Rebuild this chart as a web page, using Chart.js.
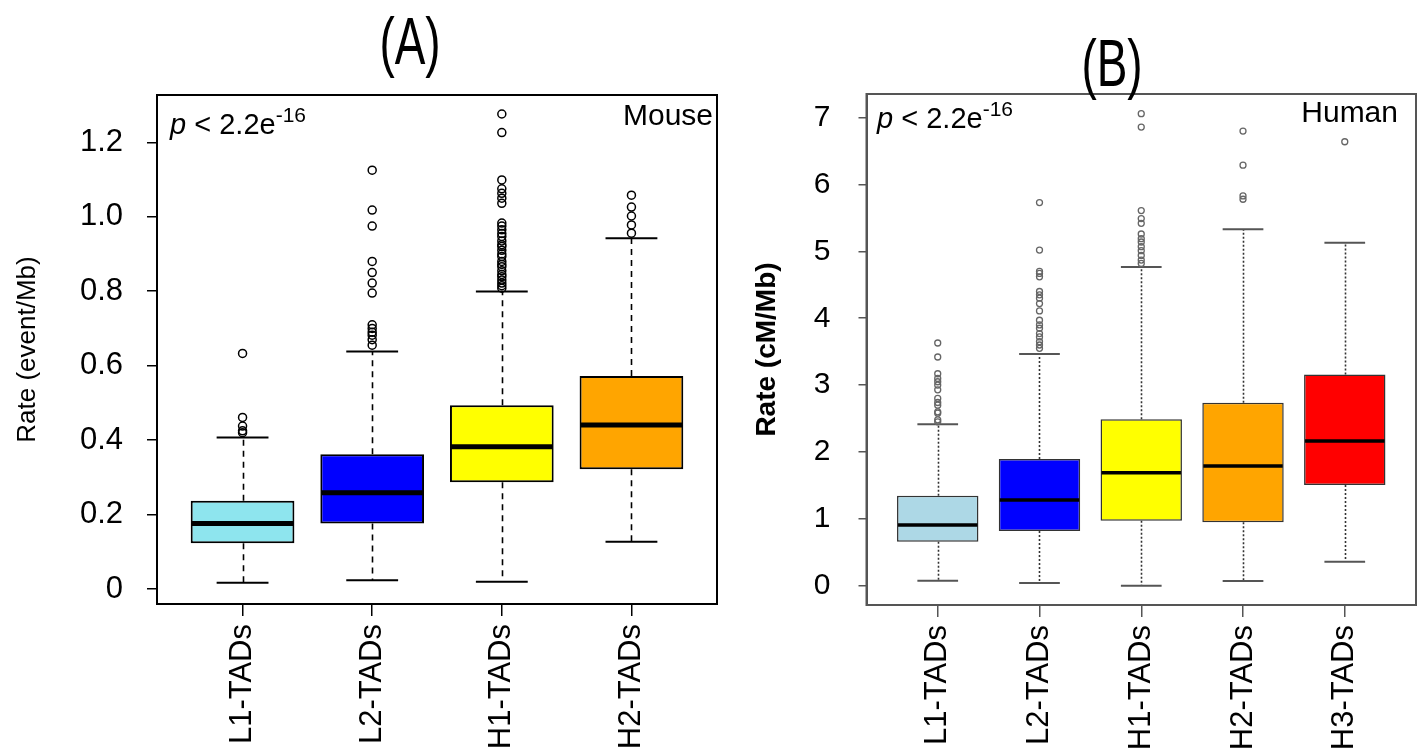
<!DOCTYPE html>
<html><head><meta charset="utf-8">
<script src="https://cdn.jsdelivr.net/npm/chart.js@4.4.1/dist/chart.umd.min.js"></script>
<style>
body{margin:0;background:#fff;width:1421px;height:750px;overflow:hidden;position:relative;font-family:'Liberation Sans',Arial,sans-serif;}
canvas{position:absolute;top:0;}
.ttl{position:absolute;width:200px;text-align:center;font-size:56px;line-height:56px;transform:scale(0.82,1.2);color:#000;z-index:2;}
.ann{position:absolute;font-size:29px;line-height:29px;color:#000;white-space:nowrap;z-index:2;}
.ann .sp{font-size:21px;position:relative;top:-12px;}
.sp2{position:absolute;font-size:30px;line-height:30px;color:#000;white-space:nowrap;z-index:2;text-align:right;width:200px;}
</style></head><body>
<canvas id="ca" width="730" height="750" style="left:0px"></canvas>
<canvas id="cb" width="691" height="750" style="left:730px"></canvas>
<div class="ttl" style="left:310px;top:13px">(A)</div>
<div class="ttl" style="left:1012px;top:35px">(B)</div>
<div class="ann" style="left:170px;top:110px"><i>p</i> &lt; 2.2e<span class="sp">-16</span></div>
<div class="ann" style="left:877px;top:104px"><i>p</i> &lt; 2.2e<span class="sp">-16</span></div>
<div class="sp2" style="left:513px;top:100px">Mouse</div>
<div class="sp2" style="left:1198px;top:97px">Human</div>
<script>
// ---------- Panel A (Mouse) ----------
const catsA = ['L1-TADs','L2-TADs','H1-TADs','H2-TADs'];
const yTicksA = [0,0.2,0.4,0.6,0.8,1.0,1.2];
const yLabelsA = ['0','0.2','0.4','0.6','0.8','1.0','1.2'];
const lowA  = [0.017, 0.024, 0.020, 0.127];
const q1A   = [0.123, 0.176, 0.287, 0.322];
const medA  = [0.176, 0.259, 0.382, 0.441];
const q3A   = [0.237, 0.362, 0.494, 0.572];
const highA = [0.407, 0.638, 0.799, 0.942];
const outA = [
  [0.420, 0.425, 0.438, 0.461, 0.633],
  [0.655, 0.670, 0.682, 0.690, 0.700, 0.710, 0.795, 0.822, 0.850, 0.880, 0.975, 1.018, 1.125],
  [0.808, 0.815, 0.822, 0.830, 0.839, 0.845, 0.855, 0.866, 0.872, 0.880, 0.893, 0.900, 0.910, 0.920, 0.925, 0.935, 0.947, 0.955, 0.965, 0.975, 0.983, 1.036, 1.050, 1.063, 1.075, 1.099, 1.226, 1.276],
  [0.956, 0.978, 1.002, 1.026, 1.058]
];
const colorsA = ['#8EE5EE','#0000FF','#FFFF00','#FFA500'];
const yMinA = -0.040, yMaxA = 1.327;
const xMinA = 0.34, xMaxA = 4.66;

// ---------- Panel B (Human) ----------
const catsB = ['L1-TADs','L2-TADs','H1-TADs','H2-TADs','H3-TADs'];
const yTicksB = [0,1,2,3,4,5,6,7];
const yLabelsB = ['0','1','2','3','4','5','6','7'];
const lowB  = [0.075, 0.040, 0.000, 0.070, 0.359];
const q1B   = [0.658, 0.818, 0.972, 0.947, 1.505];
const medB  = [0.907, 1.281, 1.690, 1.790, 2.164];
const q3B   = [1.346, 1.894, 2.490, 2.737, 3.160];
const highB = [2.413, 3.465, 4.766, 5.330, 5.130];
const outB = [
  [2.45, 2.48, 2.58, 2.60, 2.70, 2.74, 2.80, 2.93, 3.00, 3.05, 3.10, 3.17, 3.42, 3.63],
  [3.55, 3.60, 3.65, 3.72, 3.77, 3.85, 3.90, 3.97, 4.11, 4.22, 4.30, 4.35, 4.40, 4.62, 4.67, 4.70, 5.02, 5.73],
  [4.82, 4.87, 4.94, 5.01, 5.07, 5.14, 5.19, 5.26, 5.42, 5.49, 5.61, 6.86, 7.06],
  [5.78, 5.83, 6.29, 6.80],
  [6.64]
];
const colorsB = ['#ADD8E6','#0000FF','#FFFF00','#FFA500','#FF0000'];
const yMinB = -0.289, yMaxB = 7.354;
const xMinB = 0.30, xMaxB = 5.70;

function boxChart(id, d, st) {
  const plugin = {
    id: 'boxparts',
    beforeDatasetsDraw(chart) {
      const x = chart.scales.x, y = chart.scales.y, ctx = chart.ctx;
      const bw = (x.getPixelForValue(2) - x.getPixelForValue(1)) * 0.8;
      ctx.save();
      ctx.strokeStyle = st.whC; ctx.lineWidth = st.whW; ctx.setLineDash(st.dash);
      d.cats.forEach((c, i) => {
        const cx = Math.round(x.getPixelForValue(i + 1)) + 0.5;
        ctx.beginPath();
        ctx.moveTo(cx, y.getPixelForValue(d.q3[i])); ctx.lineTo(cx, y.getPixelForValue(d.high[i]));
        ctx.moveTo(cx, y.getPixelForValue(d.q1[i])); ctx.lineTo(cx, y.getPixelForValue(d.low[i]));
        ctx.stroke();
      });
      ctx.setLineDash([]); ctx.strokeStyle = st.capC; ctx.lineWidth = st.capW;
      d.cats.forEach((c, i) => {
        const cx = x.getPixelForValue(i + 1);
        ctx.beginPath();
        [d.high[i], d.low[i]].forEach(v => {
          const py = y.getPixelForValue(v);
          ctx.moveTo(cx - bw / 4, py); ctx.lineTo(cx + bw / 4, py);
        });
        ctx.stroke();
      });
      ctx.restore();
    },
    afterDatasetsDraw(chart) {
      const x = chart.scales.x, y = chart.scales.y, ctx = chart.ctx;
      const bw = (x.getPixelForValue(2) - x.getPixelForValue(1)) * 0.8;
      ctx.save();
      ctx.strokeStyle = '#000'; ctx.lineWidth = st.medW;
      d.cats.forEach((c, i) => {
        const cx = x.getPixelForValue(i + 1), py = y.getPixelForValue(d.med[i]);
        ctx.beginPath(); ctx.moveTo(cx - bw / 2 + 1, py); ctx.lineTo(cx + bw / 2 - 1, py); ctx.stroke();
      });
      const a = chart.chartArea;
      ctx.strokeStyle = st.frC; ctx.lineWidth = st.frW;
      ctx.strokeRect(a.left, a.top, a.right - a.left, a.bottom - a.top);
      ctx.restore();
    }
  };
  return new Chart(document.getElementById(id), {
    type: 'bar',
    data: {
      datasets: [
        { type: 'scatter',
          data: d.out.flatMap((arr, i) => arr.map(v => ({ x: i + 1, y: v }))),
          pointStyle: 'circle', pointRadius: st.ptR, pointHoverRadius: st.ptR,
          pointBorderWidth: st.ptW, pointBorderColor: st.ptC, pointBackgroundColor: 'rgba(0,0,0,0)' },
        { type: 'bar',
          data: d.q1.map((v, i) => ({ x: i + 1, y: [v, d.q3[i]] })),
          backgroundColor: d.colors, borderColor: st.boxC, borderWidth: st.boxW,
          borderSkipped: false, barPercentage: 0.8, categoryPercentage: 1.0 }
      ]
    },
    options: {
      responsive: false, animation: false, devicePixelRatio: 1,
      layout: { padding: { top: st.padTop, right: st.padRight, left: 0, bottom: 0 } },
      plugins: { legend: { display: false }, tooltip: { enabled: false }, title: { display: false } },
      scales: {
        x: {
          type: 'linear', min: d.xMin, max: d.xMax, offset: false,
          afterBuildTicks: s => { s.ticks = d.cats.map((c, i) => ({ value: i + 1 })); },
          afterFit: s => { s.height = st.xH; },
          ticks: { autoSkip: false, minRotation: 90, maxRotation: 90, padding: 8, color: '#000',
                   font: { family: 'Liberation Sans', size: 31 },
                   callback: (v, i) => d.cats[i] },
          grid: { display: true, drawOnChartArea: false, drawTicks: true, tickLength: 12,
                  color: st.tkC, lineWidth: 1.5, offset: false },
          border: { display: true, color: st.frC, width: st.frW }
        },
        y: {
          type: 'linear', min: d.yMin, max: d.yMax,
          afterBuildTicks: s => { s.ticks = d.yTicks.map(v => ({ value: v })); },
          afterFit: s => { s.width = st.yW; },
          ticks: { padding: st.yPad, color: '#000', font: { family: 'Liberation Sans', size: st.yFs },
                   callback: (v, i) => d.yLabels[i] },
          grid: { display: true, drawOnChartArea: false, drawTicks: true, tickLength: st.yTl,
                  color: st.tkC, lineWidth: 1.5 },
          border: { display: true, color: st.frC, width: st.frW },
          title: { display: true, text: st.yTitle, color: '#000', padding: { top: st.yTitlePad, bottom: 0 },
                   font: { family: 'Liberation Sans', size: st.yTitleFs, weight: st.yTitleWt } }
        }
      }
    },
    plugins: [plugin]
  });
}

boxChart('ca',
  { cats: catsA, yTicks: yTicksA, yLabels: yLabelsA, low: lowA, q1: q1A, med: medA, q3: q3A, high: highA,
    out: outA, colors: colorsA, yMin: yMinA, yMax: yMaxA, xMin: xMinA, xMax: xMaxA },
  { padTop: 95, padRight: 13, xH: 146, yW: 157, yPad: 24, yTl: 10, yFs: 31,
    yTitle: 'Rate (event/Mb)', yTitleFs: 26, yTitleWt: 'normal', yTitlePad: 12,
    whC: '#000', whW: 1.6, dash: [6, 5], capC: '#000', capW: 2, medW: 5,
    boxC: '#000', boxW: 2, frC: '#000', frW: 2, tkC: '#000',
    ptR: 4, ptW: 1.5, ptC: '#000' });

boxChart('cb',
  { cats: catsB, yTicks: yTicksB, yLabels: yLabelsB, low: lowB, q1: q1B, med: medB, q3: q3B, high: highB,
    out: outB, colors: colorsB, yMin: yMinB, yMax: yMaxB, xMin: xMinB, xMax: xMaxB },
  { padTop: 94, padRight: 5, xH: 145, yW: 136.5, yPad: 28, yTl: 8, yFs: 30,
    yTitle: 'Rate (cM/Mb)', yTitleFs: 28, yTitleWt: 'bold', yTitlePad: 20,
    whC: '#333', whW: 1.6, dash: [2, 2], capC: '#555', capW: 2, medW: 3.5,
    boxC: '#333', boxW: 1.5, frC: '#555', frW: 2, tkC: '#555',
    ptR: 3, ptW: 1.3, ptC: '#666' });
</script>
</body></html>
